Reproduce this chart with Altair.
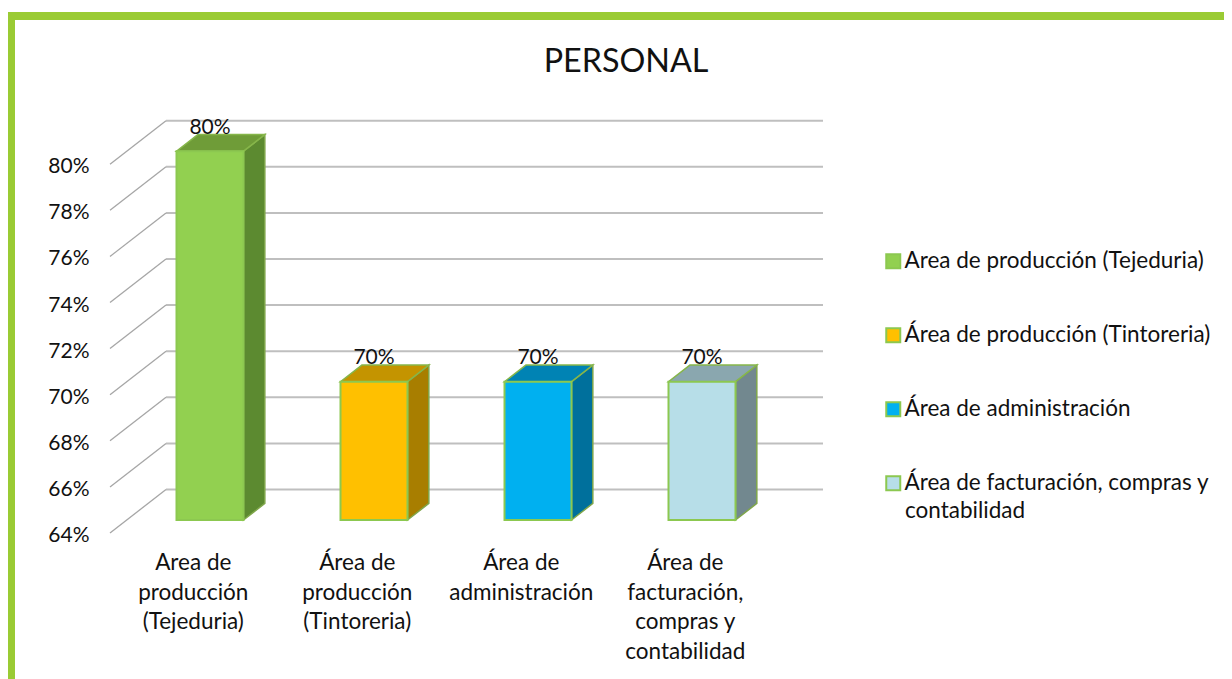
import altair as alt
import pandas as pd

title = "PERSONAL"
categories = ["Area de producción (Tejeduria)", "Área de producción (Tintoreria)",
              "Área de administración", "Área de facturación, compras y contabilidad"]
axis_labels = ["Area de\nproducción\n(Tejeduria)", "Área de\nproducción\n(Tintoreria)",
               "Área de\nadministración", "Área de\nfacturación,\ncompras y\ncontabilidad"]
values = [80, 70, 70, 70]
value_labels = ["80%", "70%", "70%", "70%"]
front_colors = ["#92D050", "#FFC000", "#00B0F0", "#B7DEE8"]
side_colors = ["#5C8A30", "#A87E00", "#00709C", "#72888F"]
top_colors = ["#6F9C38", "#C49400", "#0083B4", "#8AA7AF"]
ticks = [64, 66, 68, 70, 72, 74, 76, 78, 80]

FONT = "Lato"
W, H = 1216, 671
BASE = 64
# oblique projection of the 3-D box, in data units
PX_X, PX_Y = 164.0, 23.05           # pixels per category, per percent
DX, DY = 56 / PX_X, 43.5 / PX_Y     # shift of one full unit of depth
HALF = 33.5 / PX_X
D0, D1 = 0.299, 0.68                # depth of bar front and back
WALL = -100 / PX_X
GRID_END = 613 / PX_X
x0_px, y0_px = 202.0, 525.0         # where x=0 and y=64 sit inside the view
xs = alt.Scale(domain=[-x0_px / PX_X, (W - x0_px) / PX_X], nice=False, zero=False)
ys = alt.Scale(domain=[BASE - (H - y0_px) / PX_Y, BASE + y0_px / PX_Y], nice=False, zero=False)
yaxis = alt.Axis(values=ticks, labelExpr="datum.value + '%'", domain=False, ticks=False, grid=False, title=None,
                 offset=-81, labelPadding=0, labelFont=FONT, labelFontSize=21, labelColor="#111111",
                 labelOffset=2.5, labelFontWeight="normal")
X = lambda f: alt.X(f, type="quantitative", scale=xs, axis=None, title=None)
Y = lambda f: alt.Y(f, type="quantitative", scale=ys, axis=yaxis, title=None)

front, lab = [], []
layers_3d = []
for i, (c, v, fc, sc, tc, vl, al) in enumerate(zip(categories, values, front_colors, side_colors,
                                                    top_colors, value_labels, axis_labels)):
    front.append(dict(cat=c, x=i - HALF, x2=i + HALF, y=BASE + D0 * DY, y2=v + D0 * DY))
    side = pd.DataFrame([dict(x=i + HALF + (d - D0) * DX, y=BASE + d * DY, y2=v + d * DY) for d in (D0, D1)])
    top = pd.DataFrame([dict(y=v + d * DY, x=i - HALF + (d - D0) * DX, x2=i + HALF + (d - D0) * DX) for d in (D0, D1)])
    layers_3d.append(alt.Chart(side).mark_area(orient="vertical", color=sc, stroke="#7FA64A", strokeWidth=1.5).encode(
        x=X("x"), y=Y("y"), y2="y2"))
    layers_3d.append(alt.Chart(top).mark_area(orient="horizontal", color=tc, stroke="#86B64A", strokeWidth=1.5).encode(
        y=Y("y"), x=X("x"), x2="x2"))
    lab.append(dict(cat=c, x=i, y=v + D1 * DY, text=vl, xl=i - D0 * DX, axis=al))
grid = pd.DataFrame([dict(t=t, x=WALL + DX, x2=GRID_END, y=t + DY, xf=WALL, yf=t) for t in ticks])
front, lab = map(pd.DataFrame, (front, lab))

border_color = "#9ACB34"
border_top = alt.Chart(pd.DataFrame({"p": ["top"]})).mark_rect(color=border_color).encode(
    x=alt.value(0), x2=alt.value(W), y=alt.value(4), y2=alt.value(12))
border_left = alt.Chart(pd.DataFrame({"p": ["left"]})).mark_rect(color=border_color).encode(
    x=alt.value(0), x2=alt.value(7), y=alt.value(4), y2=alt.value(H))

axis_layer = alt.Chart(grid).mark_rule(color="#BFBFBF", strokeWidth=2).encode(
    x=X("x"), x2="x2", y=Y("y"))
wall = alt.Chart(grid).mark_rule(color="#A6A6A6", strokeWidth=1.3).encode(
    x=X("xf"), x2="x", y=Y("yf"), y2="y")

fronts = alt.Chart(front).mark_rect(stroke="#8CC850", strokeWidth=2).encode(
    x=X("x"), x2="x2", y=Y("y"), y2="y2",
    fill=alt.Fill("cat:N", sort=categories,
                  scale=alt.Scale(domain=categories, range=front_colors),
                  legend=alt.Legend(title=None, orient="none", legendX=874, legendY=242, direction="vertical",
                                    columns=1, symbolType="square", symbolSize=196, symbolStrokeColor="#8CC850",
                                    symbolStrokeWidth=2, symbolOpacity=1, rowPadding=51, labelFont=FONT, labelFontSize=22.5,
                                    labelColor="#111111", labelOffset=0, labelLimit=400,
                                    labelExpr="replace(datum.label, ' contabilidad', '')")))
legend_wrap = alt.Chart(pd.DataFrame({"t": ["contabilidad"]})).mark_text(
    font=FONT, fontSize=22.5, color="#111111", align="left", baseline="middle").encode(
    x=alt.value(897), y=alt.value(503), text="t:N")
value_text = alt.Chart(lab).mark_text(font=FONT, fontSize=21, color="#111111", baseline="alphabetic", dy=-1).encode(
    x=X("x"), y=Y("y"), text="text:N")
axis_text = alt.Chart(lab).mark_text(font=FONT, fontSize=22.5, color="#111111", baseline="top", lineBreak="\n",
                                     lineHeight=29.5).encode(
    x=X("xl"), y=alt.value(544), text="axis:N")

chart = alt.layer(axis_layer, wall, *layers_3d, fronts, value_text, axis_text, legend_wrap,
                  border_top, border_left).properties(
    width=W, height=H, padding=0, autosize=alt.AutoSizeParams(type="none"),
    background="white",
    title=alt.TitleParams(title, font=FONT, fontSize=32.3, fontWeight="normal", color="#111111", anchor="middle",
                          offset=-70, dx=10),
).configure_view(stroke=None)

chart.save("out.html", embed_options={"renderer": "svg", "actions": False})
